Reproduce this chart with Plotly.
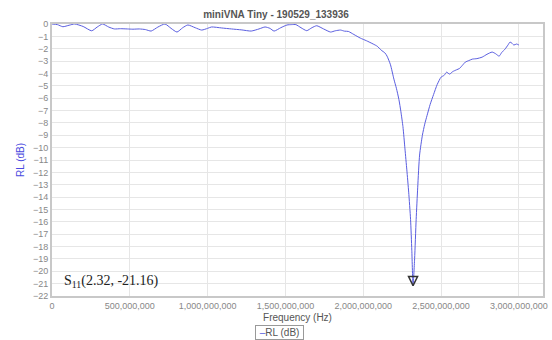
import plotly.graph_objects as go

# Frequency in GHz (converted to Hz below) and return loss in dB
freq_ghz = [0.000, 0.035, 0.070, 0.110, 0.146, 0.200, 0.255, 0.290, 0.325, 0.365, 0.401, 0.440,
            0.484, 0.520, 0.561, 0.600, 0.637, 0.680, 0.726, 0.765, 0.803, 0.840, 0.873,
            0.920, 0.962, 1.000, 1.025, 1.090, 1.153, 1.220, 1.280, 1.330, 1.369, 1.400,
            1.427, 1.470, 1.510, 1.540, 1.567, 1.600, 1.637, 1.670, 1.701, 1.745, 1.790,
            1.820, 1.854, 1.880, 1.904, 1.940, 1.981, 2.020, 2.064, 2.090, 2.115, 2.140,
            2.153, 2.175, 2.197, 2.213, 2.229, 2.242, 2.255, 2.268, 2.280, 2.292, 2.304,
            2.312, 2.320, 2.330, 2.340, 2.350, 2.362, 2.380, 2.395, 2.410, 2.430, 2.452,
            2.475, 2.500, 2.520, 2.535, 2.555, 2.575, 2.600, 2.618, 2.640, 2.656, 2.680, 2.701,
            2.730, 2.764, 2.795, 2.828, 2.850, 2.873, 2.890, 2.911, 2.930, 2.943, 2.955,
            2.968, 2.985, 3.000]
rl_db = [0.00, -0.05, -0.22, -0.10, 0.00, -0.20, -0.55, -0.25, 0.00, -0.25, -0.40, -0.38,
         -0.40, -0.42, -0.40, -0.45, -0.57, -0.25, 0.00, -0.35, -0.65, -0.30, -0.08,
         -0.30, -0.49, -0.35, -0.24, -0.32, -0.40, -0.48, -0.57, -0.40, -0.24, -0.35,
         -0.57, -0.30, -0.08, -0.05, -0.05, -0.30, -0.54, -0.30, -0.14, -0.40, -0.65,
         -0.55, -0.49, -0.58, -0.60, -0.85, -1.14, -1.35, -1.62, -1.80, -2.11, -2.35,
         -2.60, -3.30, -4.46, -5.20, -6.10, -7.10, -8.30, -10.10, -11.80, -13.60, -15.80,
         -18.30, -21.16, -19.00, -15.80, -13.20, -10.60, -9.00, -8.10, -7.40, -6.50, -5.70,
         -4.90, -4.30, -4.15, -3.90, -4.05, -3.85, -3.70, -3.60, -3.30, -3.08, -2.95, -2.84,
         -2.80, -2.68, -2.45, -2.27, -2.40, -2.60, -2.30, -2.03, -1.70, -1.46, -1.55,
         -1.70, -1.62, -1.70]
freq_hz = [f * 1e9 for f in freq_ghz]

marker_f_ghz = [2.32]
marker_db = [-21.16]
marker_label = "S<sub>11</sub>(2.32, -21.16)"
legend_label = "RL (dB)"
line_color = "#5a5ee0"

x_tickvals = [0, 500e6, 1000e6, 1500e6, 2000e6, 2500e6, 3000e6]
y_tickvals = list(range(-22, 1))

fig = go.Figure()
fig.add_trace(go.Scatter(
    x=freq_hz, y=rl_db, mode="lines", name=legend_label, showlegend=False,
    line=dict(color=line_color, width=1, shape="spline", smoothing=0.6),
))
fig.add_trace(go.Scatter(
    x=[f * 1e9 for f in marker_f_ghz], y=marker_db, mode="markers", showlegend=False,
    marker=dict(symbol="arrow-down", size=9, color="rgba(0,0,0,0)",
                line=dict(color="#333333", width=1.5)),
))

fig.add_annotation(
    text=marker_label, xref="paper", x=0.02, xanchor="left",
    yref="y", y=-20.85, yanchor="middle", showarrow=False,
    font=dict(family="Liberation Serif, Times New Roman, serif", size=14, color="#222222"),
)
# legend box
fig.add_annotation(
    text=f"&nbsp;<span style='color:{line_color}'>–</span>{legend_label}&nbsp;",
    xref="paper", x=0.463, xanchor="center",
    yref="paper", y=-0.105, yanchor="top", showarrow=False,
    bordercolor="#999999", borderwidth=1, borderpad=1, bgcolor="white",
    font=dict(family="Liberation Sans, Arial, sans-serif", size=10, color="#555555"),
)

fig.update_layout(
    width=552, height=340,
    margin=dict(l=52, r=5, t=24, b=44),
    paper_bgcolor="white", plot_bgcolor="white",
    font=dict(family="Liberation Sans, Arial, sans-serif", size=9, color="#888888"),
    title=dict(text="<b>miniVNA Tiny - 190529_133936</b>", x=0.5, xanchor="center",
               y=0.958, yanchor="middle",
               font=dict(size=10, color="#555555", family="Liberation Sans, Arial, sans-serif")),
    showlegend=False,
)
fig.update_xaxes(
    range=[0, 3.155e9], tickvals=x_tickvals, tickformat=",d",
    showgrid=True, gridcolor="#e6e6e6", gridwidth=1,
    showline=True, linecolor="#c8c8c8", linewidth=2, mirror=True,
    zeroline=False, ticks="", tickfont=dict(size=9, color="#888888"),
    title=dict(text="Frequency (Hz)", standoff=4, font=dict(size=10, color="#555555")),
)
fig.update_yaxes(
    range=[-22, 0], tickvals=y_tickvals, ticks="",
    showgrid=True, gridcolor="#e6e6e6", gridwidth=1,
    showline=True, linecolor="#c8c8c8", linewidth=2, mirror=True,
    zeroline=False, tickfont=dict(size=9, color="#888888"),
    title=dict(text="RL (dB)", standoff=6, font=dict(size=10, color="#4a4ae0")),
)

fig.write_html("out.html")
